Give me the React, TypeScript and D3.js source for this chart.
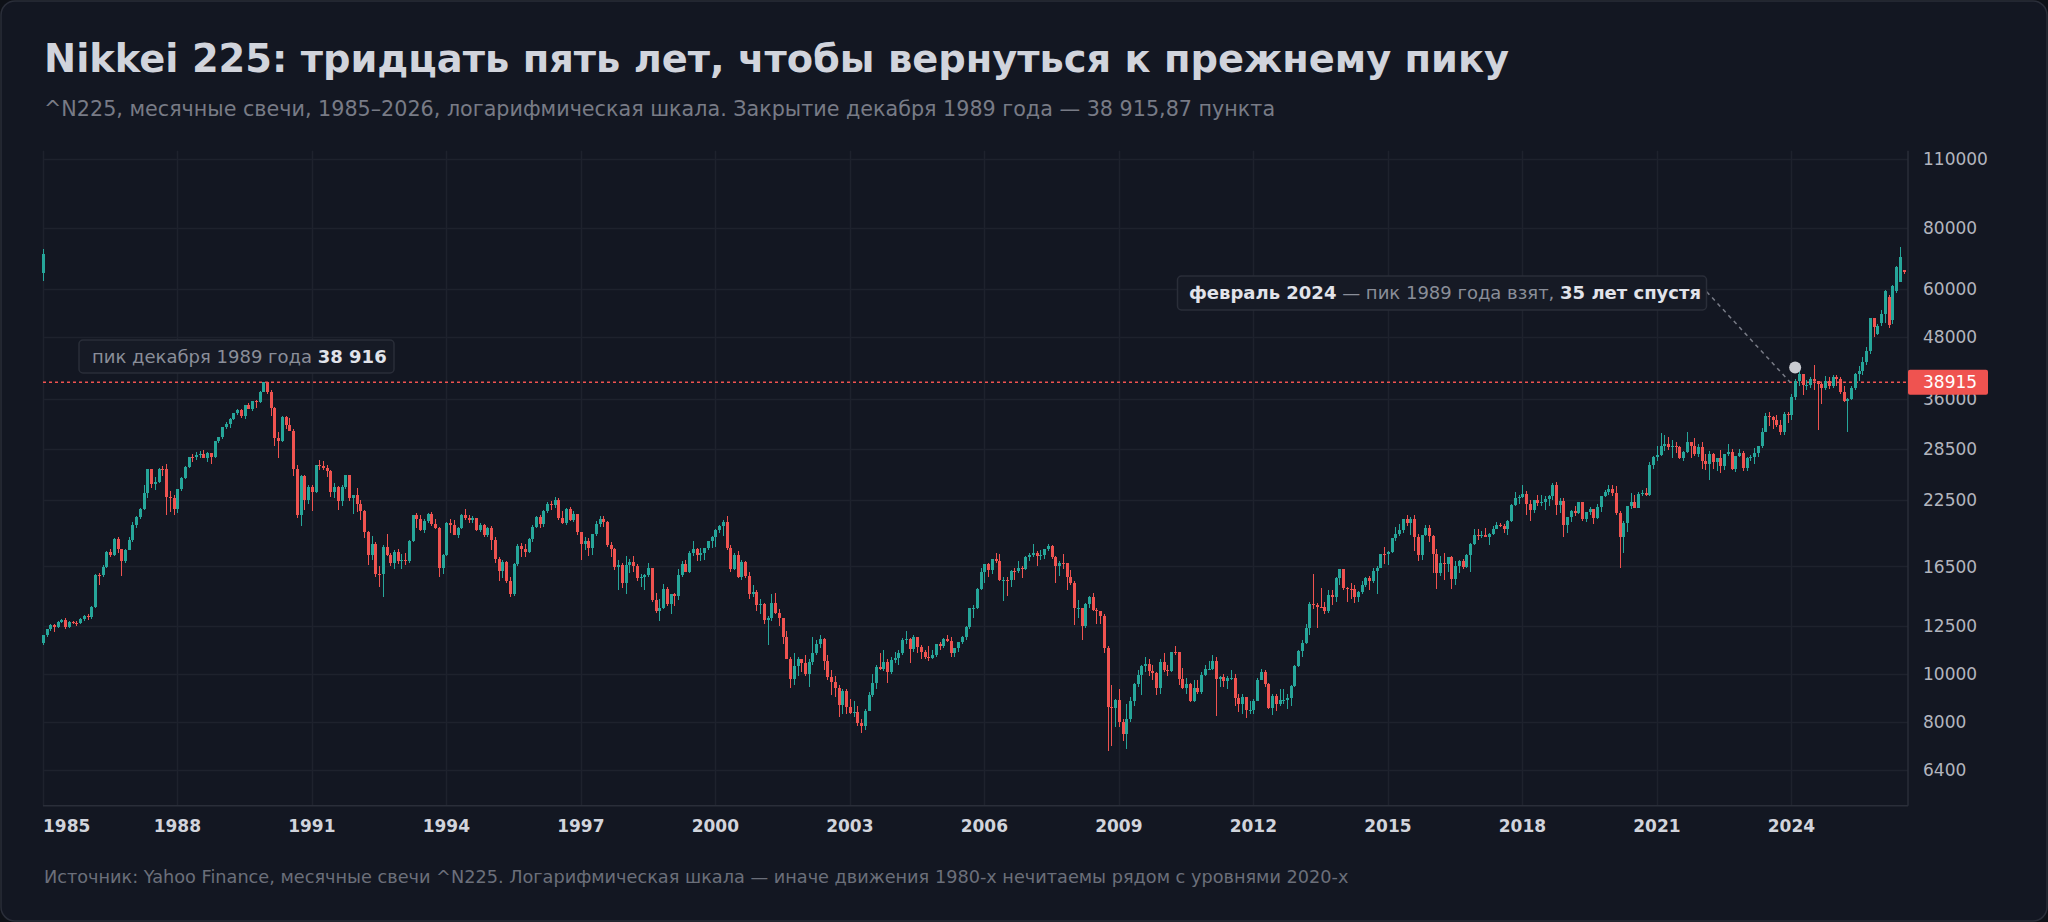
import React from "react";
import * as d3 from "d3";

// ---------- DATA (monthly candles, ^N225, Jan 1985 → Jul 2026) ----------
const firstYear = 1985;

const opens: number[] = [
  11540, 11992, 12321, 12580, 12426, 12723, 12882, 12461, 12738, 12700, 12694, 12886, // 1985
  13113, 13024, 13641, 15860, 15825, 16470, 17654, 17372, 18787, 17853, 16911, 17852, // 1986
  18701, 20024, 20766, 21567, 23274, 25929, 24176, 24488, 26029, 26011, 22765, 22687, // 1987
  21564, 23622, 24902, 26260, 27434, 27417, 27769, 27912, 27366, 27924, 27430, 29579, // 1988
  30159, 31581, 31985, 32839, 33713, 34266, 33183, 34954, 34431, 35637, 35549, 37269, // 1989
  38916, 37189, 34591, 29980, 29585, 33131, 31940, 31036, 25978, 20984, 25194, 22455, // 1990
  23849, 23293, 26409, 26292, 26111, 25790, 23291, 23900, 22336, 23916, 25222, 22688, // 1991
  22984, 22023, 21339, 19346, 17391, 18348, 15952, 15910, 18061, 17399, 16768, 17684, // 1992
  16925, 17024, 16954, 18591, 20919, 20552, 19590, 20380, 21027, 20106, 19703, 16408, // 1993
  17417, 20229, 19997, 19112, 19725, 20974, 20644, 20449, 20629, 19564, 19990, 19076, // 1994
  19723, 18650, 17053, 16140, 16807, 15437, 14518, 16678, 18117, 17913, 17655, 18744, // 1995
  19868, 20813, 20125, 21407, 22041, 21956, 22531, 20693, 20167, 21556, 20467, 21020, // 1996
  19361, 18330, 18557, 18003, 19151, 20069, 20605, 20331, 18229, 17888, 16459, 16636, // 1997
  15259, 16628, 16831, 16527, 15641, 15671, 15830, 16379, 14108, 13406, 13564, 14883, // 1998
  13842, 14499, 14368, 15837, 16701, 16112, 17530, 17862, 17437, 17605, 17942, 18558, // 1999
  18934, 19540, 19960, 20337, 17974, 16332, 17411, 15727, 16861, 15747, 14539, 14649, // 2000
  13786, 13844, 12884, 12999, 13934, 13262, 12969, 11861, 10714, 9775, 10367, 10697, // 2001
  10543, 9998, 10588, 11025, 11493, 11764, 10622, 9878, 9620, 9383, 8640, 9216, // 2002
  8579, 8340, 8363, 7973, 7831, 8425, 9083, 9563, 10344, 10219, 10560, 10101, // 2003
  10677, 10784, 11042, 11715, 11762, 11236, 11859, 11326, 11082, 10824, 10771, 10899, // 2004
  11489, 11388, 11741, 11669, 11009, 11277, 11584, 11900, 12414, 13574, 13607, 14872, // 2005
  16111, 16650, 16205, 17060, 16907, 15467, 15505, 15457, 16141, 16128, 16399, 16274, // 2006
  17226, 17383, 17604, 17288, 17400, 17876, 18138, 17249, 16569, 16786, 16738, 15681, // 2007
  15308, 13592, 13603, 12526, 13850, 14339, 13482, 13377, 13073, 11260, 8577, 8512, // 2008
  8860, 7994, 7568, 8110, 8828, 9523, 9958, 10357, 10493, 10133, 10035, 9345, // 2009
  10546, 10198, 10126, 11090, 11057, 9769, 9383, 9537, 8824, 9369, 9202, 9937, // 2010
  10229, 10238, 10624, 9755, 9850, 9694, 9816, 9833, 8955, 8700, 8988, 8435, // 2011
  8455, 8803, 9723, 10084, 9521, 8543, 9007, 8695, 8840, 8870, 8928, 9446, // 2012
  10395, 11139, 11560, 12398, 13861, 13775, 13677, 13668, 13389, 14456, 14328, 15662, // 2013
  16291, 14915, 14841, 14828, 14304, 14632, 15162, 15621, 15425, 16174, 16414, 17460, // 2014
  17451, 17674, 18798, 19207, 19520, 20563, 20236, 20585, 18890, 17388, 19083, 19747, // 2015
  19034, 17518, 16027, 16759, 16666, 17235, 15576, 16569, 16887, 16450, 17425, 18308, // 2016
  19114, 19041, 19119, 18909, 19197, 19651, 20033, 19925, 19646, 20356, 22012, 22725, // 2017
  22765, 23098, 22068, 21454, 22468, 22202, 22305, 22554, 22865, 24120, 21920, 22351, // 2018
  20015, 20773, 21385, 21206, 22259, 20601, 21276, 21522, 20704, 21756, 22927, 23294, // 2019
  23657, 23205, 21143, 18917, 20194, 21878, 22288, 21710, 23140, 23185, 22977, 26434, // 2020
  27444, 27663, 28966, 29179, 28813, 28860, 28792, 27284, 28090, 29453, 28893, 27822, // 2021
  28792, 27002, 26527, 27821, 26848, 27280, 26393, 27802, 28092, 25937, 27587, 27969, // 2022
  26095, 27327, 27446, 28041, 28856, 30888, 33189, 33172, 32619, 31858, 30859, 33487, // 2023
  33464, 36287, 39166, 40369, 38406, 38488, 39583, 39102, 38648, 37920, 39081, 38208, // 2024
  39895, 39572, 37156, 35618, 36045, 37965, 40487, 41069, 42718, 44932, 52411, 48700, // 2025
  51200, 53600, 58000, 52000, 59400, 62200, 65500, // 2026
];

const highs: number[] = [
  12010, 12350, 12640, 12600, 12780, 12900, 12950, 12800, 12800, 12800, 12950, 13150,
  13250, 13700, 15900, 16000, 16600, 17700, 17900, 18850, 18900, 17900, 17900, 18900,
  20250, 20900, 21700, 24100, 25930, 25950, 25000, 26120, 26300, 26650, 23500, 23000,
  23700, 25000, 26300, 27500, 27800, 28100, 28200, 28400, 28100, 28000, 29600, 30200,
  31600, 32300, 32900, 33750, 34300, 34300, 35000, 35300, 35700, 35800, 37300, 38957,
  38951, 37600, 34600, 30900, 33200, 33300, 33000, 31300, 26500, 25300, 25300, 24100,
  24100, 26500, 27150, 27000, 26500, 25900, 24300, 24000, 24100, 25300, 25300, 23000,
  23800, 22500, 21500, 19500, 19000, 18500, 16500, 18200, 19200, 17600, 17800, 17900,
  17500, 17600, 18700, 21000, 21200, 21000, 20600, 21200, 21300, 20600, 19800, 17500,
  20300, 20600, 20500, 19800, 21100, 21600, 21000, 20900, 20700, 20200, 20100, 19800,
  19900, 18900, 17200, 17000, 16900, 15700, 16800, 18300, 18400, 18300, 18800, 20000,
  20900, 21000, 21500, 22300, 22400, 22750, 22700, 21400, 21700, 21800, 21400, 21100,
  19400, 18900, 18800, 19200, 20400, 20900, 20900, 20400, 18500, 18000, 17000, 16800,
  17300, 17100, 17300, 16700, 15900, 15900, 16800, 16400, 14600, 14200, 15200, 15000,
  14500, 14600, 16300, 16900, 17000, 17700, 18600, 18000, 18000, 18000, 18600, 19000,
  19600, 20000, 20450, 20833, 18200, 17600, 17700, 17000, 16900, 16100, 15100, 14800,
  14200, 13900, 13100, 14500, 14600, 13500, 13000, 12200, 10800, 11000, 10800, 10700,
  10900, 10700, 11900, 11700, 11980, 11800, 10900, 10200, 9900, 9500, 9300, 9300,
  8900, 8800, 8600, 8100, 8500, 9200, 10000, 10400, 11000, 11200, 10700, 10800,
  11100, 11200, 11800, 12200, 11800, 12000, 11900, 11450, 11200, 11400, 11200, 11500,
  11600, 11800, 12000, 11900, 11300, 11600, 11950, 12500, 13600, 13800, 14900, 16400,
  16700, 16800, 17100, 17600, 17500, 15700, 15700, 16200, 16400, 16900, 16500, 17300,
  17600, 18300, 17700, 17800, 17900, 18300, 18262, 17300, 16900, 17500, 16800, 16200,
  15400, 14100, 13600, 13900, 14400, 14600, 13600, 13400, 13200, 11400, 9500, 8900,
  9300, 8100, 8700, 9000, 9600, 10200, 10400, 10800, 10700, 10400, 10100, 10700,
  11000, 10400, 11100, 11400, 11100, 10300, 9800, 9600, 9700, 9700, 10100, 10400,
  10600, 10900, 10800, 9900, 10000, 9900, 10200, 10000, 9100, 9100, 9000, 8800,
  8900, 9800, 10255, 10200, 9600, 9100, 9100, 9300, 9300, 9100, 9500, 10400,
  11200, 11700, 12600, 14000, 15942, 13900, 14900, 14000, 14800, 14800, 15700, 16320,
  16320, 15000, 15300, 15100, 14700, 15400, 15700, 15800, 16400, 16500, 17500, 18030,
  17700, 18800, 19800, 20100, 20600, 20952, 20800, 20950, 19200, 19100, 20000, 20000,
  19100, 17900, 17300, 17600, 17250, 17300, 16900, 17000, 17100, 17500, 18400, 19600,
  19600, 19500, 19700, 19300, 19900, 20300, 20200, 20100, 20500, 22100, 23382, 23000,
  24129, 23500, 22500, 22500, 23050, 23000, 22900, 23000, 24300, 24448, 22700, 22700,
  20800, 21500, 21860, 22300, 22300, 21300, 21800, 21600, 22100, 22950, 23600, 24100,
  24116, 24000, 21400, 20400, 21900, 23200, 23000, 23300, 23600, 23800, 26800, 27600,
  28980, 30714, 30500, 30200, 29700, 29500, 28900, 28200, 30795, 29500, 29960, 29200,
  29400, 27900, 28300, 28000, 27400, 28400, 27900, 29222, 28500, 27600, 28500, 28200,
  27500, 27700, 28700, 28900, 31500, 33770, 33800, 33300, 33450, 32600, 33800, 33850,
  36900, 39427, 41088, 40400, 39400, 39800, 42224, 39200, 39000, 40000, 39900, 40300,
  40300, 39800, 38200, 36100, 38300, 40600, 42000, 43700, 45800, 52600, 52600, 51000,
  54600, 59800, 58300, 61200, 67000, 73200, 65600,
];

const lows: number[] = [
  11460, 11900, 12200, 12150, 12380, 12650, 12300, 12400, 12600, 12500, 12600, 12800,
  12850, 12900, 13600, 15100, 15700, 16400, 17200, 17300, 17600, 15800, 16800, 17800,
  18500, 19700, 20600, 21500, 22700, 23800, 23600, 24300, 25200, 21000, 21300, 21000,
  21200, 23500, 24800, 26100, 26900, 27100, 27400, 27300, 26900, 26600, 27400, 29300,
  29900, 31300, 31500, 32700, 33400, 32900, 32800, 34400, 34100, 34500, 35300, 37200,
  36800, 33300, 28900, 27300, 29400, 31300, 31000, 25200, 20700, 19900, 21500, 22100,
  21400, 23200, 25800, 25800, 25000, 22800, 22700, 21500, 21900, 23700, 22400, 21100,
  21300, 20500, 18800, 16600, 17000, 15700, 15000, 14300, 17300, 16500, 16300, 16700,
  16300, 16600, 16800, 18500, 19700, 19500, 19300, 20200, 19900, 19600, 15700, 15900,
  17300, 19300, 19100, 18800, 19600, 20500, 20200, 20200, 19500, 19400, 18900, 18900,
  17800, 16800, 15400, 15600, 15300, 14300, 14400, 16500, 17200, 17200, 17600, 18500,
  19700, 19700, 19800, 21200, 21500, 21700, 20500, 20100, 20000, 20400, 20300, 19100,
  17000, 17800, 17300, 17400, 19000, 19800, 19800, 18100, 17200, 16200, 14800, 14900,
  14500, 16000, 16100, 15400, 15000, 14800, 15700, 14000, 13300, 12790, 13500, 13700,
  13200, 13700, 14100, 15700, 16100, 16000, 17300, 16900, 16900, 17000, 17800, 18000,
  18100, 19300, 19000, 17800, 16100, 16200, 15600, 15500, 15600, 14200, 14300, 13400,
  13200, 12600, 11440, 12800, 13200, 12500, 11500, 10700, 9380, 9500, 9900, 10100,
  9900, 9420, 10400, 10900, 11300, 10200, 9700, 9070, 9000, 8200, 8300, 8300,
  8300, 8200, 7850, 7607, 7700, 8400, 9000, 9300, 10200, 10150, 9600, 10000,
  10500, 10400, 10900, 11500, 10500, 11100, 11000, 10700, 10700, 10600, 10700, 10800,
  11200, 11300, 11600, 10800, 10800, 11100, 11500, 11700, 12300, 13000, 13500, 14800,
  15300, 15700, 15900, 16800, 15400, 14050, 14400, 15000, 15500, 16000, 15600, 16200,
  16900, 17200, 16500, 17000, 17100, 17700, 17100, 15300, 15800, 16300, 14800, 15100,
  12573, 13000, 11700, 12400, 13600, 13400, 12600, 12600, 11000, 6995, 7160, 7800,
  7800, 7300, 7055, 8000, 8600, 9400, 9050, 10100, 9900, 9700, 9080, 9100,
  10100, 9900, 10100, 10900, 9500, 9300, 9100, 8780, 8780, 9100, 9100, 9900,
  10200, 10200, 8227, 9400, 9400, 9300, 9700, 8600, 8360, 8300, 8135, 8300,
  8300, 8800, 9700, 9400, 8500, 8240, 8400, 8600, 8700, 8500, 8600, 9400,
  10350, 10800, 11500, 12000, 13500, 12400, 13600, 13200, 13300, 13800, 14000, 15100,
  14800, 13995, 14200, 13900, 13960, 14500, 15000, 14750, 15300, 14530, 16400, 16700,
  16600, 17600, 18600, 19000, 19300, 19900, 19100, 17700, 16900, 17000, 19000, 18500,
  16017, 14865, 15800, 15500, 16100, 14864, 15100, 16000, 16300, 16400, 16111, 18200,
  18650, 18800, 18900, 18224, 19100, 19600, 19800, 19300, 19100, 20300, 21900, 22100,
  22700, 20950, 20347, 21200, 21900, 21900, 21460, 21900, 22500, 20971, 21200, 18949,
  19241, 20300, 20900, 21100, 20400, 20300, 21000, 20110, 20600, 21300, 22800, 23000,
  22900, 21000, 16358, 17600, 19400, 21600, 21650, 21650, 22900, 22900, 22900, 26000,
  27000, 27600, 28300, 28400, 27400, 28000, 27200, 26950, 28000, 27300, 27600, 27500,
  26000, 25800, 24682, 26000, 25700, 25500, 25900, 27600, 25850, 25600, 27500, 25700,
  25700, 27000, 26600, 27500, 28700, 30800, 31800, 31300, 31600, 30500, 30500, 32200,
  32700, 35900, 38300, 36700, 37600, 37900, 37600, 31156, 35200, 37600, 37700, 37900,
  38200, 36800, 35500, 30793, 35900, 37500, 39200, 40300, 42100, 44400, 48100, 48500,
  50500, 51200, 50200, 51000, 59000, 62000, 64300,
];

const closes: number[] = [
  11992, 12321, 12580, 12426, 12723, 12882, 12461, 12738, 12700, 12694, 12886, 13113,
  13024, 13641, 15860, 15825, 16470, 17654, 17372, 18787, 17853, 16911, 17852, 18701,
  20024, 20766, 21567, 23274, 25929, 24176, 24488, 26029, 26011, 22765, 22687, 21564,
  23622, 24902, 26260, 27434, 27417, 27769, 27912, 27366, 27924, 27430, 29579, 30159,
  31581, 31985, 32839, 33713, 34266, 33183, 34954, 34431, 35637, 35549, 37269, 38916,
  37189, 34591, 29980, 29585, 33131, 31940, 31036, 25978, 20984, 25194, 22455, 23849,
  23293, 26409, 26292, 26111, 25790, 23291, 23900, 22336, 23916, 25222, 22688, 22984,
  22023, 21339, 19346, 17391, 18348, 15952, 15910, 18061, 17399, 16768, 17684, 16925,
  17024, 16954, 18591, 20919, 20552, 19590, 20380, 21027, 20106, 19703, 16408, 17417,
  20229, 19997, 19112, 19725, 20974, 20644, 20449, 20629, 19564, 19990, 19076, 19723,
  18650, 17053, 16140, 16807, 15437, 14518, 16678, 18117, 17913, 17655, 18744, 19868,
  20813, 20125, 21407, 22041, 21956, 22531, 20693, 20167, 21556, 20467, 21020, 19361,
  18330, 18557, 18003, 19151, 20069, 20605, 20331, 18229, 17888, 16459, 16636, 15259,
  16628, 16831, 16527, 15641, 15671, 15830, 16379, 14108, 13406, 13564, 14883, 13842,
  14499, 14368, 15837, 16701, 16112, 17530, 17862, 17437, 17605, 17942, 18558, 18934,
  19540, 19960, 20337, 17974, 16332, 17411, 15727, 16861, 15747, 14539, 14649, 13786,
  13844, 12884, 12999, 13934, 13262, 12969, 11861, 10714, 9775, 10367, 10697, 10543,
  9998, 10588, 11025, 11493, 11764, 10622, 9878, 9620, 9383, 8640, 9216, 8579,
  8340, 8363, 7973, 7831, 8425, 9083, 9563, 10344, 10219, 10560, 10101, 10677,
  10784, 11042, 11715, 11762, 11236, 11859, 11326, 11082, 10824, 10771, 10899, 11489,
  11388, 11741, 11669, 11009, 11277, 11584, 11900, 12414, 13574, 13607, 14872, 16111,
  16650, 16205, 17060, 16907, 15467, 15505, 15457, 16141, 16128, 16399, 16274, 17226,
  17383, 17604, 17288, 17400, 17876, 18138, 17249, 16569, 16786, 16738, 15681, 15308,
  13592, 13603, 12526, 13850, 14339, 13482, 13377, 13073, 11260, 8577, 8512, 8860,
  7994, 7568, 8110, 8828, 9523, 9958, 10357, 10493, 10133, 10035, 9345, 10546,
  10198, 10126, 11090, 11057, 9769, 9383, 9537, 8824, 9369, 9202, 9937, 10229,
  10238, 10624, 9755, 9850, 9694, 9816, 9833, 8955, 8700, 8988, 8435, 8455,
  8803, 9723, 10084, 9521, 8543, 9007, 8695, 8840, 8870, 8928, 9446, 10395,
  11139, 11560, 12398, 13861, 13775, 13677, 13668, 13389, 14456, 14328, 15662, 16291,
  14915, 14841, 14828, 14304, 14632, 15162, 15621, 15425, 16174, 16414, 17460, 17451,
  17674, 18798, 19207, 19520, 20563, 20236, 20585, 18890, 17388, 19083, 19747, 19034,
  17518, 16027, 16759, 16666, 17235, 15576, 16569, 16887, 16450, 17425, 18308, 19114,
  19041, 19119, 18909, 19197, 19651, 20033, 19925, 19646, 20356, 22012, 22725, 22765,
  23098, 22068, 21454, 22468, 22202, 22305, 22554, 22865, 24120, 21920, 22351, 20015,
  20773, 21385, 21206, 22259, 20601, 21276, 21522, 20704, 21756, 22927, 23294, 23657,
  23205, 21143, 18917, 20194, 21878, 22288, 21710, 23140, 23185, 22977, 26434, 27444,
  27663, 28966, 29179, 28813, 28860, 28792, 27284, 28090, 29453, 28893, 27822, 28792,
  27002, 26527, 27821, 26848, 27280, 26393, 27802, 28092, 25937, 27587, 27969, 26095,
  27327, 27446, 28041, 28856, 30888, 33189, 33172, 32619, 31858, 30859, 33487, 33464,
  36287, 39166, 40369, 38406, 38488, 39583, 39102, 38648, 37920, 39081, 38208, 39895,
  39572, 37156, 35618, 36045, 37965, 40487, 41069, 42718, 44932, 52411, 50253, 50600,
  53600, 59400, 50800, 60800, 66500, 69900, 64950,
];

// a stray candle drawn at the very first slot of the chart (as in the source picture): O, H, L, C
const strayCandle: number[] = [64670, 72330, 62470, 70760];

const priceTicks: number[] = [110000, 80000, 60000, 48000, 36000, 28500, 22500, 16500, 12500, 10000, 8000, 6400];
const yearTicks: number[] = [1985, 1988, 1991, 1994, 1997, 2000, 2003, 2006, 2009, 2012, 2015, 2018, 2021, 2024];

const peakClose = 38915.87;
const peakLabel = "38915";
const breakMonthIndex = (2024 - firstYear) * 12 + 1; // Feb 2024

const titleText = "Nikkei 225: тридцать пять лет, чтобы вернуться к прежнему пику";
const subtitleText = "^N225, месячные свечи, 1985–2026, логарифмическая шкала. Закрытие декабря 1989 года — 38 915,87 пункта";
const footerText = "Источник: Yahoo Finance, месячные свечи ^N225. Логарифмическая шкала — иначе движения 1980-х нечитаемы рядом с уровнями 2020-х";

// ---------- STYLE ----------
const W = 2048;
const H = 922;
const FONT = "'DejaVu Sans', Verdana, sans-serif";
const UP = "#26a69a";
const DOWN = "#ef5350";
const BG = "#131722";
const GRID = "#1e222d";
const AXIS = "#2a2e39";

const plot = { left: 43, right: 1908, top: 150.7, bottom: 805.7 };

export default function App() {
  const n = closes.length;
  const x = d3.scaleLinear().domain([0, n - 1]).range([42.8, 1903.5]);
  const y = d3.scaleLog().domain([6400, 110000]).range([769.7, 159.2]);

  const candle = (i: number, o: number, h: number, l: number, c: number, key: string) => {
    const up = c >= o;
    const col = up ? UP : DOWN;
    const hi = Math.max(h, o, c);
    const lo = Math.min(l, o, c);
    const cx = Math.round(x(i));
    const yTop = y(Math.max(o, c));
    const yBot = y(Math.min(o, c));
    const bh = Math.max(1, yBot - yTop);
    return (
      <g key={key}>
        <line x1={cx + 0.5} x2={cx + 0.5} y1={y(hi)} y2={y(lo)} stroke={col} strokeWidth={1} />
        <rect x={cx - 1} y={yTop} width={3} height={bh} fill={col} />
      </g>
    );
  };

  const yPeak = y(peakClose);
  const bx = x(breakMonthIndex);
  const markerY = y(highs[breakMonthIndex]) - 12;

  const annGrey = "#8a8e99";
  const annBold = "#e1e3ea";

  return (
    <div style={{ width: W, height: H, position: "relative" }}>
      <style>{`html,body{margin:0;padding:0;background:#0e1117;}`}</style>
      <svg width={W} height={H} viewBox={`0 0 ${W} ${H}`} style={{ display: "block", fontFamily: FONT }}>
        <rect x={0} y={0} width={W} height={H} fill="#0e1117" />
        <rect x={1} y={1} width={W - 2} height={H - 2} rx={14} fill={BG} stroke={AXIS} strokeWidth={1.5} />

        {/* titles */}
        <text x={44} y={72} fontSize={38.4} fontWeight="bold" fill="#d1d4dc">{titleText}</text>
        <text x={44} y={115.5} fontSize={20.7} fill="#787b86">{subtitleText}</text>

        {/* grid */}
        {priceTicks.map((t) => (
          <line key={"hg" + t} x1={plot.left} x2={plot.right} y1={Math.round(y(t)) + 0.5} y2={Math.round(y(t)) + 0.5} stroke={GRID} strokeWidth={1.5} />
        ))}
        {yearTicks.map((yr) => {
          const gx = Math.round(x((yr - firstYear) * 12)) + 0.5;
          return <line key={"vg" + yr} x1={gx} x2={gx} y1={plot.top} y2={plot.bottom} stroke={GRID} strokeWidth={1.5} />;
        })}

        {/* axes borders */}
        <line x1={plot.right} x2={plot.right} y1={plot.top} y2={plot.bottom} stroke={AXIS} strokeWidth={1.5} />
        <line x1={plot.left} x2={plot.right} y1={plot.bottom} y2={plot.bottom} stroke={AXIS} strokeWidth={1.5} />

        {/* price axis labels */}
        {priceTicks.map((t) => (
          <text key={"yl" + t} x={1923} y={y(t)} dy="0.36em" fontSize={17} fill="#b2b5be">{String(t)}</text>
        ))}

        {/* time axis labels */}
        {yearTicks.map((yr, k) => {
          const gx = x((yr - firstYear) * 12);
          return (
            <text key={"xl" + yr} x={k === 0 ? plot.left : gx} y={831.5} fontSize={17} fontWeight="bold"
              textAnchor={k === 0 ? "start" : "middle"} fill="#d1d4dc">{String(yr)}</text>
          );
        })}

        {/* peak price line */}
        <line x1={plot.left} x2={plot.right} y1={yPeak} y2={yPeak} stroke={DOWN} strokeWidth={1.5} strokeDasharray="3 3" />

        {/* candles */}
        <g shapeRendering="crispEdges">
          {candle(0, strayCandle[0], strayCandle[1], strayCandle[2], strayCandle[3], "stray")}
          {closes.map((c, i) => candle(i, opens[i], highs[i], lows[i], c, "c" + i))}
        </g>

        {/* price badge */}
        <rect x={plot.right} y={yPeak - 12.5} width={80} height={25} rx={2} fill={DOWN} />
        <text x={1923} y={yPeak} dy="0.36em" fontSize={17} fill="#ffffff">{peakLabel}</text>

        {/* annotation: Dec 1989 peak */}
        <rect x={79} y={340} width={315} height={33} rx={4} fill="#161a25" stroke={AXIS} strokeWidth={1.5} />
        <text x={92} y={363} fontSize={18} style={{ whiteSpace: "pre" }}>
          <tspan fill={annGrey}>{"пик декабря 1989 года "}</tspan>
          <tspan fill={annBold} fontWeight="bold">{"38 916"}</tspan>
        </text>

        {/* annotation: Feb 2024 break */}
        <line x1={1706.7} y1={291.7} x2={bx - 5} y2={yPeak} stroke="#787b86" strokeWidth={1.5} strokeDasharray="4 4" />
        <circle cx={bx} cy={markerY} r={6} fill="#c9cbd1" />
        <rect x={1177.5} y={276} width={529} height={34} rx={4} fill="#161a25" stroke={AXIS} strokeWidth={1.5} />
        <text x={1189} y={299} fontSize={18} style={{ whiteSpace: "pre" }}>
          <tspan fill={annBold} fontWeight="bold">{"февраль 2024"}</tspan>
          <tspan fill={annGrey}>{" — пик 1989 года взят, "}</tspan>
          <tspan fill={annBold} fontWeight="bold">{"35 лет спустя"}</tspan>
        </text>

        {/* footer */}
        <text x={44} y={883} fontSize={17.7} fill="#6b6f7a">{footerText}</text>
      </svg>
    </div>
  );
}
